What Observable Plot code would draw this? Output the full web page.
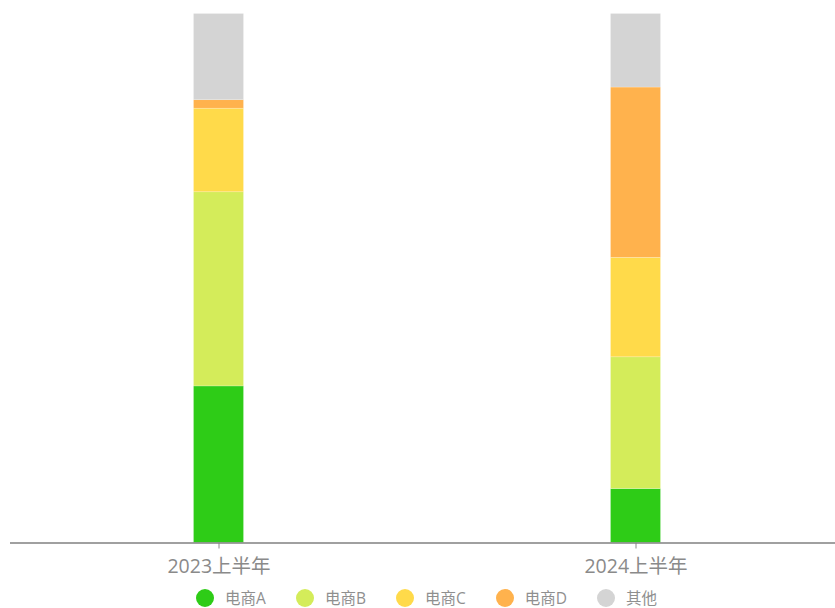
<!DOCTYPE html>
<html>
<head>
<meta charset="utf-8">
<script src="https://cdn.jsdelivr.net/npm/d3@7"></script>
<script src="https://cdn.jsdelivr.net/npm/@observablehq/plot@0.6"></script>
<style>
  html, body { margin: 0; padding: 0; background: #fff; overflow: hidden; }
  #chart { width: 835px; }
  #legend { position: absolute; left: 0; top: 590px; display: flex; justify-content: center; align-items: center; height: 16px; line-height: 16px; width: 835px; padding-left: 18px; box-sizing: border-box;
    font-family: 'Open Sans', 'Noto Sans CJK SC', sans-serif; font-size: 15.5px; color: #8f8f8f; }
  .item { display: flex; align-items: center; margin: 0 15px; }
  .dot { width: 18px; height: 18px; border-radius: 50%; margin-right: 11px; }
</style>
</head>
<body>
<div id="chart"></div>
<div id="legend"></div>
<script>
const periods = ["2023上半年", "2024上半年"];
const seriesNames = ["电商A", "电商B", "电商C", "电商D", "其他"];
const colors = ["#2ecc17", "#d4ec5a", "#ffda4a", "#ffb24d", "#d4d4d4"];
const shareA = [29.6, 10.2];
const shareB = [36.7, 24.9];
const shareC = [15.8, 18.8];
const shareD = [1.6, 32.2];
const shareOther = [16.3, 13.9];

const seriesValues = [shareA, shareB, shareC, shareD, shareOther];
const data = [];
seriesNames.forEach((s, i) => {
  periods.forEach((p, j) => data.push({period: p, series: s, value: seriesValues[i][j]}));
});

const chart = Plot.plot({
  width: 835,
  height: 586,
  marginTop: 13.5,
  marginBottom: 43.5,
  marginLeft: 10,
  marginRight: 0,
  style: {fontFamily: "'Open Sans','Noto Sans CJK SC',sans-serif", fontSize: "19.5px", color: "#8a8a8a", background: "#fff"},
  x: {type: "band", domain: periods, range: [10, 844], padding: 0, label: null, tickSize: 6, tickPadding: 10},
  y: {domain: [0, 100], axis: null},
  color: {domain: seriesNames, range: colors},
  marks: [
    Plot.barY(data, {x: "period", y: "value", fill: "series", order: seriesNames, insetLeft: 183.5, insetRight: 183.5,
      stroke: "#fff", strokeOpacity: 0.35, strokeWidth: 0.6}),
    Plot.ruleY([0], {stroke: "#808080", strokeWidth: 1.5})
  ]
});
document.getElementById("chart").appendChild(chart);

const legend = document.getElementById("legend");
seriesNames.forEach((s, i) => {
  const item = document.createElement("div");
  item.className = "item";
  const dot = document.createElement("span");
  dot.className = "dot";
  dot.style.background = colors[i];
  const label = document.createElement("span");
  label.textContent = s;
  item.appendChild(dot);
  item.appendChild(label);
  legend.appendChild(item);
});
</script>
</body>
</html>
